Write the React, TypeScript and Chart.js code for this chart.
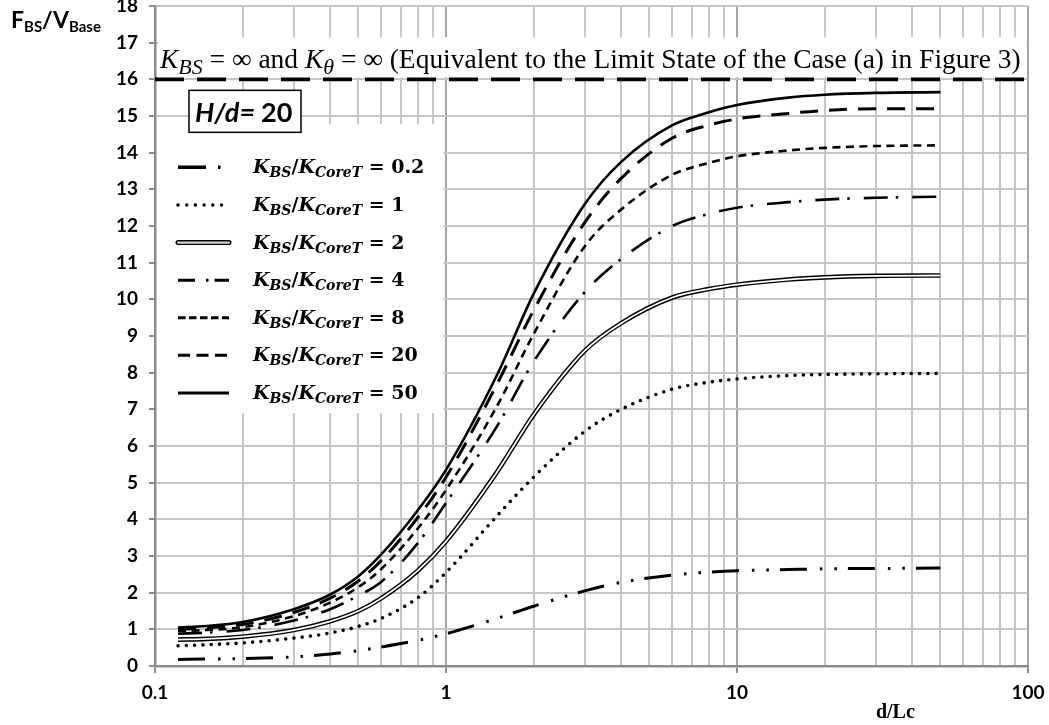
import React, { useEffect, useRef } from "react";
import { Chart, registerables } from "chart.js";

Chart.register(...registerables);

// ---------- data ----------
const xValues = [0.12, 0.15, 0.2, 0.3, 0.4, 0.5, 0.6, 0.8, 1, 1.5, 2, 3, 4, 6, 8, 10, 15, 20, 30, 50];
const ratio02 = [0.18, 0.19, 0.2, 0.25, 0.33, 0.42, 0.52, 0.7, 0.88, 1.3, 1.63, 2.05, 2.28, 2.48, 2.56, 2.6, 2.63, 2.65, 2.66, 2.67];
const ratio1 = [0.55, 0.58, 0.63, 0.76, 0.9, 1.08, 1.3, 1.86, 2.55, 4.1, 5.15, 6.4, 7.0, 7.55, 7.74, 7.83, 7.92, 7.95, 7.97, 7.98];
const ratio2 = [0.72, 0.74, 0.8, 0.98, 1.22, 1.5, 1.85, 2.6, 3.4, 5.3, 6.85, 8.6, 9.35, 10.05, 10.28, 10.4, 10.54, 10.6, 10.64, 10.65];
const ratio4 = [0.88, 0.91, 0.98, 1.24, 1.55, 1.92, 2.3, 3.35, 4.45, 6.55, 8.3, 10.2, 11.1, 12.0, 12.33, 12.5, 12.65, 12.72, 12.77, 12.8];
const ratio8 = [0.95, 0.98, 1.06, 1.36, 1.73, 2.15, 2.65, 3.75, 4.8, 7.1, 9.05, 11.45, 12.45, 13.4, 13.72, 13.9, 14.06, 14.13, 14.18, 14.2];
const ratio20 = [1.0, 1.04, 1.13, 1.46, 1.85, 2.32, 2.88, 4.05, 5.15, 7.7, 9.7, 12.1, 13.3, 14.4, 14.75, 14.92, 15.07, 15.15, 15.2, 15.2];
const ratio50 = [1.05, 1.09, 1.2, 1.55, 1.95, 2.45, 3.05, 4.25, 5.35, 7.95, 10.15, 12.6, 13.75, 14.75, 15.1, 15.3, 15.5, 15.58, 15.63, 15.65];

const seriesLabels = ["0.2", "1", "2", "4", "8", "20", "50"];
const limitValue = 16;
const limitX = [0.1, 100];
const xTickValues = [0.1, 1, 10, 100];
const xTickLabels = ["0.1", "1", "10", "100"];
const yMin = 0;
const yMax = 18;
const hdLabel = "20";
const xTitle = "d/Lc";
const titleRest = " = \u221E (Equivalent to the Limit State of the Case (a) in Figure 3)";

// ---------- helpers ----------
const pts = (ys: number[]) => xValues.map((x, i) => ({ x, y: ys[i] }));

function buildLogTicks(): number[] {
  const out: number[] = [];
  for (let n = -1; n <= 1; n++) {
    for (let k = 1; k <= 9; k++) out.push(Number((k * Math.pow(10, n)).toPrecision(6)));
  }
  out.push(100);
  return out;
}
function isDecade(v: number) {
  const l = Math.log10(v);
  return Math.abs(l - Math.round(l)) < 1e-6;
}

type Seg = { t: string; font: string; dy: number };
function segsWidth(ctx: CanvasRenderingContext2D, segs: Seg[]) {
  let w = 0;
  for (const s of segs) {
    ctx.font = s.font;
    w += ctx.measureText(s.t).width;
  }
  return w;
}
function drawSegs(ctx: CanvasRenderingContext2D, segs: Seg[], x: number, y: number) {
  let cx = x;
  for (const s of segs) {
    ctx.font = s.font;
    ctx.fillText(s.t, cx, y + s.dy);
    cx += ctx.measureText(s.t).width;
  }
  return cx - x;
}

// line styles (plot)
const plotStyles: any[] = [
  { w: 3, dash: [27, 13, 2.5, 12, 2.5, 11], cap: "butt" },
  { w: 3.6, dash: [0, 8.3], cap: "round" },
  { w: 4.6, dash: [], cap: "butt", double: true },
  { w: 2.6, dash: [24, 8, 2.5, 14], cap: "butt" },
  { w: 2.6, dash: [8, 5.5], cap: "butt" },
  { w: 3, dash: [18, 11], cap: "butt" },
  { w: 2.6, dash: [], cap: "butt" },
];
// line styles (legend samples)
const legendStyles: any[] = [
  { w: 3.5, dash: [28, 12, 2.5, 30], cap: "butt" },
  { w: 3.5, dash: [0, 8.7], cap: "round" },
  { w: 5, dash: [], cap: "round", double: true },
  { w: 3, dash: [17, 11, 2.5, 6], cap: "butt" },
  { w: 3, dash: [7.5, 3.5], cap: "butt" },
  { w: 3, dash: [12, 6.5], cap: "butt" },
  { w: 3, dash: [], cap: "butt" },
];

const allSeries = [ratio02, ratio1, ratio2, ratio4, ratio8, ratio20, ratio50];

const overlayPlugin = {
  id: "overlay",
  afterDatasetsDraw(chart: any) {
    const ctx: CanvasRenderingContext2D = chart.ctx;
    const xs = chart.scales.x;
    const ys = chart.scales.y;
    const left = xs.left;
    const right = xs.right;
    const y16 = ys.getPixelForValue(limitValue);
    ctx.save();

    // ---- limit-state title with white background ----
    ctx.fillStyle = "#fff";
    ctx.fillRect(left + 3, y16 - 42, right - left - 5, 40);
    const serif = '"Liberation Serif", "DejaVu Serif", serif';
    const mk = (size: number): Seg[] => [
      { t: "K", font: `italic ${size}px ${serif}`, dy: 0 },
      { t: "BS", font: `italic ${size * 0.8}px ${serif}`, dy: size * 0.22 },
      { t: " = \u221E and ", font: `${size}px ${serif}`, dy: 0 },
      { t: "K", font: `italic ${size}px ${serif}`, dy: 0 },
      { t: "\u03B8", font: `italic ${size * 0.8}px ${serif}`, dy: size * 0.22 },
      { t: titleRest, font: `${size}px ${serif}`, dy: 0 },
    ];
    const base = 25;
    const w0 = segsWidth(ctx, mk(base));
    const size = (base * (right - left - 12)) / w0;
    ctx.fillStyle = "#000";
    ctx.textBaseline = "alphabetic";
    drawSegs(ctx, mk(size), left + 5, y16 - 11);

    // ---- legend ----
    const lgTop = ys.getPixelForValue(14.78);
    const lgBottom = ys.getPixelForValue(6.9);
    const lgRight = xs.getPixelForValue(0.98);
    ctx.fillStyle = "#fff";
    ctx.fillRect(left + 2, lgTop, lgRight - left - 2, lgBottom - lgTop);

    const rowY0 = ys.getPixelForValue(13.6);
    const rowStep = 37.6;
    const sx0 = left + 23;
    const sx1 = left + 74;
    const tx = left + 98;
    const lf = '"DejaVu Serif", "Liberation Serif", serif';
    for (let i = 0; i < seriesLabels.length; i++) {
      const cy = rowY0 + i * rowStep;
      const st = legendStyles[i];
      ctx.lineCap = st.cap;
      ctx.setLineDash(st.dash);
      ctx.strokeStyle = "#000";
      ctx.lineWidth = st.w;
      ctx.beginPath();
      ctx.moveTo(sx0, cy);
      ctx.lineTo(sx1, cy);
      ctx.stroke();
      if (st.double) {
        ctx.strokeStyle = "#d4d4d4";
        ctx.lineWidth = 2.2;
        ctx.beginPath();
        ctx.moveTo(sx0, cy);
        ctx.lineTo(sx1, cy);
        ctx.stroke();
      }
      ctx.setLineDash([]);
      ctx.fillStyle = "#000";
      const segs: Seg[] = [
        { t: "K", font: `italic bold 19px ${lf}`, dy: 0 },
        { t: "BS", font: `italic bold 14px ${lf}`, dy: 4 },
        { t: "/", font: `bold 19px ${lf}`, dy: 0 },
        { t: "K", font: `italic bold 19px ${lf}`, dy: 0 },
        { t: "CoreT", font: `italic bold 14px ${lf}`, dy: 4 },
        { t: " = " + seriesLabels[i], font: `bold 19px ${lf}`, dy: 0 },
      ];
      drawSegs(ctx, segs, tx, cy + 6);
    }

    // ---- H/d box ----
    const bx = left + 34;
    const by = ys.getPixelForValue(15.7);
    const bw = 112;
    const bh = 42;
    ctx.fillStyle = "#fff";
    ctx.fillRect(bx, by, bw, bh);
    ctx.strokeStyle = "#000";
    ctx.lineWidth = 1.5;
    ctx.strokeRect(bx, by, bw, bh);
    ctx.fillStyle = "#000";
    drawSegs(
      ctx,
      [
        { t: "H/d= ", font: 'italic bold 27px Lato, "Open Sans", sans-serif', dy: 0 },
        { t: hdLabel, font: 'bold 27px Lato, "Open Sans", sans-serif', dy: 0 },
      ],
      bx + 6,
      by + 32
    );
    ctx.restore();
  },
  afterDraw(chart: any) {
    const ctx: CanvasRenderingContext2D = chart.ctx;
    const xs = chart.scales.x;
    ctx.save();
    ctx.fillStyle = "#000";
    ctx.textBaseline = "alphabetic";
    const sans = 'Lato, "Open Sans", sans-serif';
    drawSegs(
      ctx,
      [
        { t: "F", font: `bold 23px ${sans}`, dy: 0 },
        { t: "BS", font: `bold 15px ${sans}`, dy: 4 },
        { t: "/V", font: `bold 23px ${sans}`, dy: 0 },
        { t: "Base", font: `bold 15px ${sans}`, dy: 4 },
      ],
      11,
      28
    );
    ctx.font = 'bold 20px "Liberation Serif", serif';
    ctx.textAlign = "center";
    ctx.fillText(xTitle, xs.getPixelForValue(35), 718);
    ctx.restore();
  },
};

export default function App() {
  const ref = useRef<HTMLCanvasElement>(null);
  useEffect(() => {
    const canvas = ref.current;
    if (!canvas) return;
    const datasets: any[] = [];
    datasets.push({
      label: "limit",
      data: limitX.map((x) => ({ x, y: limitValue })),
      borderColor: "#000",
      borderWidth: 4,
      borderDash: [29, 13],
      pointRadius: 0,
      order: 1,
    });
    allSeries.forEach((ys, i) => {
      const st = plotStyles[i];
      datasets.push({
        label: "KBS/KCoreT = " + seriesLabels[i],
        data: pts(ys),
        borderColor: "#000",
        borderWidth: st.w,
        borderDash: st.dash,
        borderCapStyle: st.cap,
        pointRadius: 0,
        cubicInterpolationMode: "monotone",
        order: 1,
      });
      if (st.double) {
        datasets.push({
          label: "inner " + seriesLabels[i],
          data: pts(ys),
          borderColor: "#fff",
          borderWidth: 1.8,
          pointRadius: 0,
          cubicInterpolationMode: "monotone",
          order: 0,
        });
      }
    });

    const tickFont = { family: 'Lato, "Open Sans", sans-serif', weight: "bold", size: 19 };

    const chart = new Chart(canvas, {
      type: "line",
      data: { datasets },
      options: {
        responsive: false,
        animation: false,
        events: [],
        layout: { padding: 0 },
        plugins: {
          legend: { display: false },
          tooltip: { enabled: false },
          title: { display: false },
        },
        scales: {
          x: {
            type: "logarithmic",
            min: 0.1,
            max: 100,
            afterBuildTicks: (scale: any) => {
              scale.ticks = buildLogTicks().map((v) => ({ value: v }));
            },
            afterFit: (scale: any) => {
              scale.height = 59;
              scale.paddingLeft = 0;
              scale.paddingRight = 21;
            },
            ticks: {
              autoSkip: false,
              maxRotation: 0,
              minRotation: 0,
              padding: 8,
              color: "#000",
              font: tickFont,
              callback: (value: any) => {
                const v = Number(value);
                const idx = xTickValues.findIndex((t) => Math.abs(t - v) / t < 1e-6);
                return idx >= 0 ? xTickLabels[idx] : "";
              },
            },
            grid: {
              color: (c: any) => (c.tick && isDecade(c.tick.value) ? "#a3a3a3" : "#c6c6c6"),
              lineWidth: 2,
              tickLength: 7,
              tickColor: (c: any) => (c.tick && isDecade(c.tick.value) ? "#8c8c8c" : "rgba(0,0,0,0)"),
            },
            border: { display: true, color: "#8c8c8c", width: 2.5 },
          } as any,
          y: {
            type: "linear",
            min: yMin,
            max: yMax,
            afterFit: (scale: any) => {
              scale.width = 155;
              scale.paddingTop = 6;
              scale.paddingBottom = 0;
            },
            ticks: {
              stepSize: 1,
              padding: 11,
              color: "#000",
              font: tickFont,
            },
            grid: {
              color: "#c6c6c6",
              lineWidth: 2,
              tickLength: 6,
              tickColor: "#8c8c8c",
            },
            border: { display: true, color: "#8c8c8c", width: 2.5 },
          } as any,
        },
      },
      plugins: [overlayPlugin],
    } as any);
    return () => chart.destroy();
  }, []);

  return (
    <div style={{ position: "fixed", left: 0, top: 0, width: 1049, height: 725, background: "#fff" }}>
      <canvas ref={ref} width={1049} height={725} style={{ display: "block", width: 1049, height: 725 }} />
    </div>
  );
}
